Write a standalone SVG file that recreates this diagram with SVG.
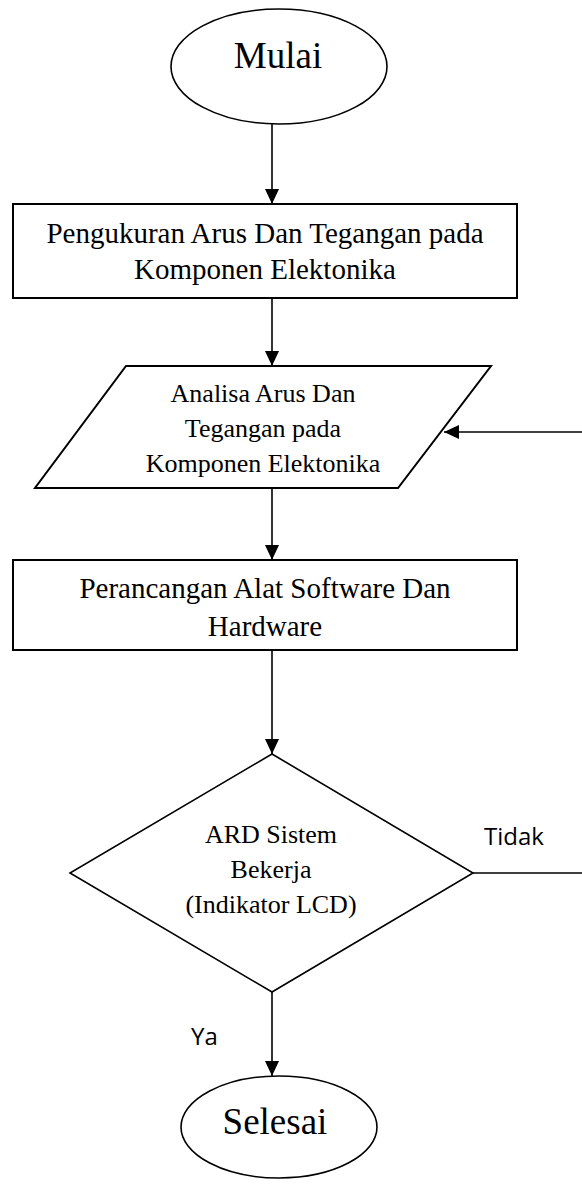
<svg xmlns="http://www.w3.org/2000/svg" width="582" height="1184" viewBox="0 0 582 1184">
<style>
.shape{fill:#fff;stroke:#000;stroke-width:2}
.oval{fill:#fff;stroke:#000;stroke-width:1.6}
.conn{fill:none;stroke:#000;stroke-width:1.6}
.t{font-family:"Liberation Serif","Times New Roman",serif;fill:#000;text-anchor:middle}
.big{font-size:37px}
.mid{font-size:29px}
.sm{font-size:26px}
.lab{font-family:"Open Sans","Liberation Sans",sans-serif;font-size:24px;fill:#000}
</style>
<defs>
<marker id="arr" markerUnits="userSpaceOnUse" markerWidth="16" markerHeight="14" refX="15" refY="7" orient="auto">
<path d="M0,0 L15,7 L0,14 z" fill="#000"/>
</marker>
</defs>
<rect width="582" height="1184" fill="#fff"/>
<g id="connectors">
<path class="conn" d="M272,124 V204" marker-end="url(#arr)"/>
<path class="conn" d="M272,298 V366" marker-end="url(#arr)"/>
<path class="conn" d="M272,488 V560" marker-end="url(#arr)"/>
<path class="conn" d="M272,650 V754" marker-end="url(#arr)"/>
<path class="conn" d="M272,992 V1076" marker-end="url(#arr)"/>
<path class="conn" d="M582,432 H444" marker-end="url(#arr)"/>
<path class="conn" d="M468,873 H582"/>
<text class="lab" x="484" y="845">Tidak</text>
<text class="lab" x="191" y="1045">Ya</text>
</g>
<g id="mulai">
<ellipse class="oval" cx="279" cy="66.5" rx="108" ry="57.5"/>
<text class="t big" x="278" y="68">Mulai</text>
</g>
<g id="pengukuran">
<rect class="shape" x="13" y="204" width="504" height="94"/>
<text class="t mid" x="265" y="243">Pengukuran Arus Dan Tegangan pada</text>
<text class="t mid" x="265" y="279">Komponen Elektonika</text>
</g>
<g id="analisa">
<polygon class="shape" points="126,366 491,366 398,488 35,488"/>
<text class="t sm" x="263" y="402">Analisa Arus Dan</text>
<text class="t sm" x="263" y="437">Tegangan pada</text>
<text class="t sm" x="263" y="472">Komponen Elektonika</text>
</g>
<g id="perancangan">
<rect class="shape" x="13" y="560" width="504" height="90"/>
<text class="t mid" x="265" y="598">Perancangan Alat Software Dan</text>
<text class="t mid" x="265" y="636">Hardware</text>
</g>
<g id="decision">
<polygon class="shape" points="272,754 473,873 272,992 70,873" style="stroke-width:1.6"/>
<text class="t sm" x="271" y="843">ARD Sistem</text>
<text class="t sm" x="271" y="878">Bekerja</text>
<text class="t sm" x="271" y="913">(Indikator LCD)</text>
</g>
<g id="selesai">
<ellipse class="oval" cx="279" cy="1127" rx="98" ry="51"/>
<text class="t big" x="275" y="1134">Selesai</text>
</g>
</svg>
